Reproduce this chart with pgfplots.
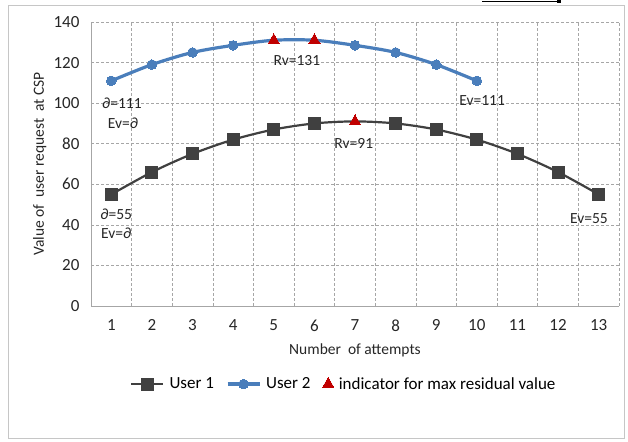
\documentclass[border=0pt]{standalone}
\usepackage{pgfplots}
\pgfplotsset{compat=1.18}
\usepackage{fontspec}
\setmainfont{Carlito}
\definecolor{uone}{HTML}{404040}
\definecolor{utwo}{HTML}{4A7EBB}
\definecolor{tri}{HTML}{C00000}
\definecolor{gridc}{HTML}{A6A6A6}
\begin{document}
\begin{tikzpicture}[x=1pt,y=1pt]
\path (0,0) rectangle (628,441);
\draw[gray!45, line width=0.8pt] (8,3) rectangle (624,436);
\draw[black, line width=1.6pt] (482,439.5) -- (557,439.5);
\fill[black] (557,437.5) rectangle (561,441);
\begin{axis}[at={(91pt,135pt)}, anchor=south west, scale only axis,
  width=528pt, height=284pt,
  xmin=0.5, xmax=13.5, ymin=0, ymax=140,
  xtick={1,...,13}, ytick={0,20,...,140},
  minor xtick={0.5,1.5,...,13.5},
  xmajorgrids=false, xminorgrids=true, ymajorgrids=true,
  major grid style={densely dashed, gridc, line width=0.6pt},
  minor grid style={densely dashed, gridc, line width=0.6pt},
  axis x line*=bottom, axis y line*=left,
  axis line style={-, gridc, line width=0.9pt},
  major tick length=0pt, minor tick length=0pt,
  tick label style={font=\fontsize{17}{19}\selectfont, text=black!85},
  xticklabel style={yshift=-10pt},
  yticklabel style={xshift=-8pt},
  /pgf/number format/assume math mode=true,
  xlabel={Number\ \ of attempts},
  ylabel={Value of\ \ user request\ \ at CSP},
  label style={font=\fontsize{15.5}{18}\selectfont, text=black!85},
  xlabel style={at={(axis description cs:0.5,-0.155)}, anchor=center},
  ylabel style={at={(axis description cs:-0.097,0.5)}, anchor=center},
  legend style={at={(0.479,-0.275)}, anchor=center, draw=none, fill=none,
    legend columns=3, font=\fontsize{17}{19}\selectfont,
    /tikz/every odd column/.append style={column sep=3pt},
    /tikz/every even column/.append style={column sep=10pt}},
  legend image code/.code={\draw[#1, mark indices={2}] plot coordinates {(0pt,0pt) (16pt,0pt) (32pt,0pt)};},
  clip=false,
]
\addplot[uone, line width=2.2pt, smooth, mark=square*, mark size=6pt,
  mark options={solid, fill=uone, line width=0pt}, mark indices={1,2,3,4,5,6,8,9,10,11,12,13}]
  coordinates {(1,55) (2,66) (3,75) (4,82) (5,87) (6,90) (7,91) (8,90) (9,87) (10,82) (11,75) (12,66) (13,55)};
\addlegendentry{User 1}
\addplot[utwo, line width=3.2pt, smooth, mark=*, mark size=4.8pt,
  mark options={solid, fill=utwo, line width=0pt}, mark indices={1,2,3,4,7,8,9,10}]
  coordinates {(1,111) (2,119) (3,125) (4,128.5) (5,131) (6,131) (7,128.5) (8,125) (9,119) (10,111)};
\addlegendentry{User 2}
\addplot[only marks, mark=triangle*, mark size=6.5pt, color=tri, mark options={fill=tri, line width=0pt}]
  coordinates {(5,131) (6,131) (7,91)};
\addlegendentry{indicator for max residual value}
\begin{scope}[every node/.style={font=\fontsize{15.5}{17}\selectfont, text=black!85}]
\node at (axis cs:1.26,100) {∂=111};
\node at (axis cs:1.29,90.2) {Ev=∂};
\node at (axis cs:5.57,120.8) {Rv=131};
\node at (axis cs:10.13,101.5) {Ev=111};
\node at (axis cs:6.97,80.3) {Rv=91};
\node at (axis cs:1.12,45.3) {∂=55};
\node at (axis cs:1.12,36) {Ev=∂};
\node at (axis cs:12.76,42.9) {Ev=55};
\end{scope}
\end{axis}
\end{tikzpicture}
\end{document}
